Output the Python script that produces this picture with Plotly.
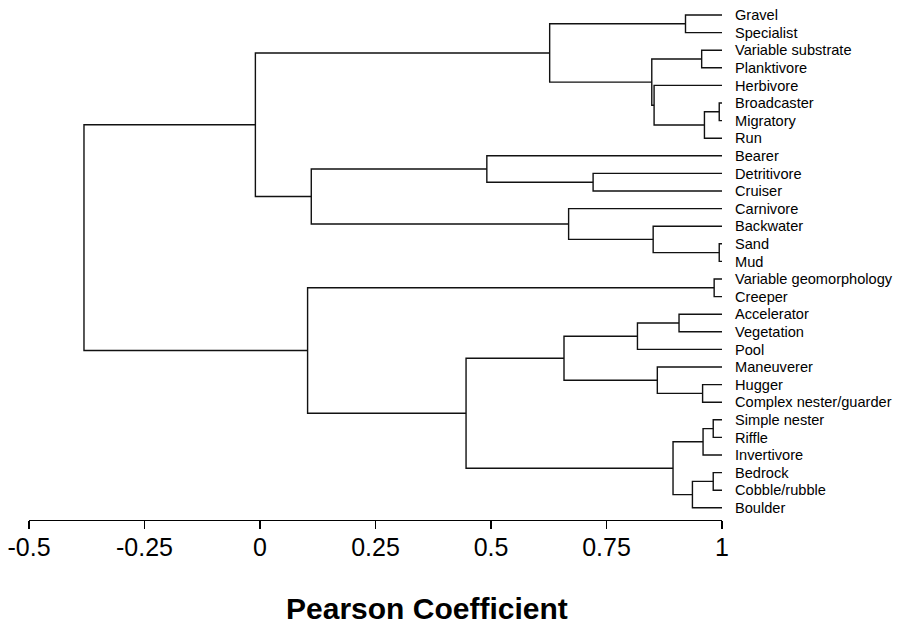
import plotly.graph_objects as go

# Leaves, top to bottom
leaves = ["Gravel", "Specialist", "Variable substrate", "Planktivore", "Herbivore",
          "Broadcaster", "Migratory", "Run", "Bearer", "Detritivore", "Cruiser",
          "Carnivore", "Backwater", "Sand", "Mud", "Variable geomorphology", "Creeper",
          "Accelerator", "Vegetation", "Pool", "Maneuverer", "Hugger",
          "Complex nester/guarder", "Simple nester", "Riffle", "Invertivore",
          "Bedrock", "Cobble/rubble", "Boulder"]

# Merges: children (leaf names or "m<k>" for earlier merges) and Pearson coefficient
merge_left = ["Gravel", "Variable substrate", "Broadcaster", "m2", "Herbivore", "m1", "m0",
              "Detritivore", "Bearer", "Sand", "Backwater", "Carnivore", "m8", "m6",
              "Variable geomorphology", "Accelerator", "m15", "Hugger", "Maneuverer", "m16",
              "Simple nester", "m20", "Bedrock", "m22", "m21", "m19", "m14", "m13"]
merge_right = ["Specialist", "Planktivore", "Migratory", "Run", "m3", "m4", "m5",
               "Cruiser", "m7", "Mud", "m9", "m10", "m11", "m12",
               "Creeper", "Vegetation", "Pool", "Complex nester/guarder", "m17", "m18",
               "Riffle", "Invertivore", "Cobble/rubble", "Boulder", "m23", "m24", "m25", "m26"]
merge_coef = [0.921, 0.956, 0.994, 0.962, 0.853, 0.848, 0.627,
              0.721, 0.491, 0.994, 0.851, 0.668, 0.111, -0.010,
              0.983, 0.907, 0.817, 0.958, 0.860, 0.658,
              0.981, 0.959, 0.981, 0.936, 0.894, 0.446, 0.103, -0.381]

leaf_coef = 1.0
x_ticks = [-0.5, -0.25, 0, 0.25, 0.5, 0.75, 1]
x_ticktext = ["-0.5", "-0.25", "0", "0.25", "0.5", "0.75", "1"]

# node positions
pos_x = {name: leaf_coef for name in leaves}
pos_y = {name: i for i, name in enumerate(leaves)}

xs, ys = [], []
for k, (a, b, h) in enumerate(zip(merge_left, merge_right, merge_coef)):
    ya, yb = pos_y[a], pos_y[b]
    xs += [pos_x[a], h, h, pos_x[b], None]
    ys += [ya, ya, yb, yb, None]
    pos_x["m%d" % k] = h
    pos_y["m%d" % k] = (ya + yb) / 2.0

FONT = "Liberation Sans, Arial, Helvetica, sans-serif"

fig = go.Figure()
fig.add_trace(go.Scatter(x=xs, y=ys, mode="lines",
                         line=dict(color="#111111", width=1.4),
                         hoverinfo="skip", showlegend=False))

fig.update_layout(
    width=907, height=625,
    margin=dict(l=29, r=185, t=0, b=105),
    paper_bgcolor="white", plot_bgcolor="white",
    font=dict(family=FONT, color="black"),
    xaxis=dict(range=[-0.5, 1.0], tickvals=x_ticks, ticktext=x_ticktext,
               showgrid=False, zeroline=False, showline=True, linecolor="black",
               linewidth=1.3, ticks="outside", ticklen=8, tickwidth=1.2,
               tickcolor="black", ticklabelstandoff=-3,
               tickfont=dict(size=25, family=FONT, color="black")),
    yaxis=dict(range=[28.693, -0.852], tickvals=list(range(len(leaves))),
               ticktext=leaves, side="right", showgrid=False, zeroline=False,
               showline=False, ticks="", ticklabelstandoff=12,
               tickfont=dict(size=14.6, family=FONT, color="black")),
    annotations=[dict(text="<b>Pearson Coefficient</b>", xref="paper", yref="paper",
                      x=0.574, y=-0.171, xanchor="center", yanchor="middle",
                      showarrow=False, font=dict(size=30, family=FONT, color="black"))],
)

fig.write_html("out.html", config={"displayModeBar": False, "staticPlot": True},
               post_script="document.body.style.margin='0';document.body.style.overflow='hidden';")
